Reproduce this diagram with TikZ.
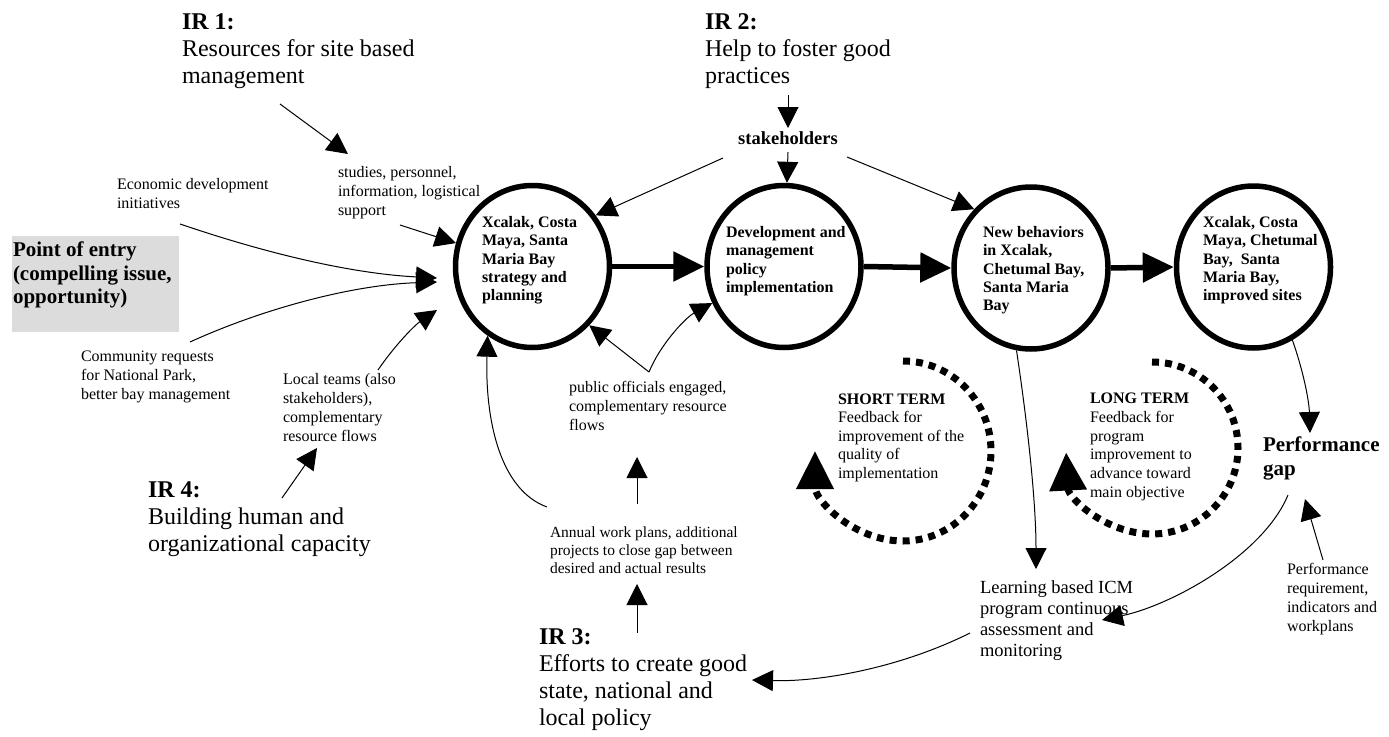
\documentclass[tikz,border=0pt]{standalone}
\usepackage{fontspec}
\setmainfont{Liberation Serif}
\usetikzlibrary{arrows.meta,shapes.geometric}
\definecolor{boxgray}{RGB}{220,220,220}
\begin{document}
\begin{tikzpicture}[x=1pt,y=-1pt,
  every node/.style={inner sep=0pt,outer sep=0pt},
  stage/.style={ellipse,draw,line width=5.5pt,minimum width=154pt,minimum height=162pt,outer sep=2.75pt},
  stagetext/.style={anchor=north west,align=left,font=\bfseries\fontsize{16}{18.3}\selectfont},
  irtext/.style={anchor=north west,align=left,font=\fontsize{24}{27}\selectfont},
  smalltext/.style={anchor=north west,align=left,font=\fontsize{16}{19}\selectfont},
  thinflow/.style={line width=1pt,-{Triangle[length=21pt,width=21pt]}},
  mainflow/.style={line width=5.5pt,-{Triangle[length=31pt,width=29pt]}},
  feedbackloop/.style={line width=7pt,dash pattern=on 7pt off 6pt,-{Triangle[length=38pt,width=36pt]}}
]
\useasboundingbox (0,0) rectangle (1389,736);

% --- headings of the intermediate results
\node[irtext] (ir1) at (182,13.6) {\textbf{IR 1:}\\Resources for site based\\management};
\node[irtext] (ir2) at (705,13.6) {\textbf{IR 2:}\\Help to foster good\\practices};
\node[irtext] (ir3) at (539,628.6) {\textbf{IR 3:}\\Efforts to create good\\state, national and\\local policy};
\node[irtext] (ir4) at (148,481.6) {\textbf{IR 4:}\\Building human and\\organizational capacity};

% --- point of entry
\node[fill=boxgray,anchor=north west,minimum width=167pt,minimum height=96pt] (entrybox) at (12,236) {};
\node[anchor=north west,align=left,font=\bfseries\fontsize{21}{23.5}\selectfont] (entry) at (13,242.2)
  {Point of entry\\(compelling issue,\\opportunity)};

% --- the four stages
\node[stage] (c1) at (532.5,266.5) {};
\node[stage] (c2) at (784,266.5) {};
\node[stage] (c3) at (1031,268) {};
\node[stage] (c4) at (1253.5,267) {};
\node[stagetext] (c1t) at (482,216.3) {Xcalak, Costa\\Maya, Santa\\Maria Bay\\strategy and\\planning};
\node[stagetext] (c2t) at (726,226.3) {Development and\\management\\policy\\implementation};
\node[stagetext] (c3t) at (983,226.3) {New behaviors\\in Xcalak,\\Chetumal Bay,\\Santa Maria\\Bay};
\node[stagetext] (c4t) at (1203,216.3) {Xcalak, Costa\\Maya, Chetumal\\Bay,~ Santa\\Maria Bay,\\improved sites};

% --- labels
\node[font=\bfseries\fontsize{18.5}{20}\selectfont] (stake) at (788,138) {stakeholders};
\node[smalltext] (studies) at (338,166.3) {studies, personnel,\\information, logistical\\support};
\node[smalltext] (econ) at (117,178.3) {Economic development\\initiatives};
\node[smalltext] (comm) at (81,351.3) {Community requests\\for National Park,\\better bay management};
\node[smalltext] (local) at (283,373.3) {Local teams (also\\stakeholders),\\complementary\\resource flows};
\node[smalltext] (pub) at (569,381.3) {public officials engaged,\\complementary resource\\flows};
\node[smalltext,font=\fontsize{15.5}{18}\selectfont] (annual) at (550,526.3)
  {Annual work plans, additional\\projects to close gap between\\desired and actual results};
\node[anchor=north west,align=left,font=\fontsize{18.5}{21}\selectfont] (learn) at (980,580.2)
  {Learning based ICM\\program continuous\\assessment and\\monitoring};
\node[smalltext] (req) at (1287,563.3) {Performance\\requirement,\\indicators and\\workplans};
\node[anchor=north west,align=left,font=\bfseries\fontsize{21}{24}\selectfont] (gap) at (1263,437.2) {Performance\\gap};
\node[smalltext,font=\fontsize{16}{18.6}\selectfont] (short) at (838,393.4)
  {\textbf{SHORT TERM}\\Feedback for\\improvement of the\\quality of\\implementation};
\node[smalltext,font=\fontsize{16}{18.6}\selectfont] (long) at (1090,393.4)
  {\textbf{LONG TERM}\\Feedback for\\program\\improvement to\\advance toward\\main objective};

% --- free ends of the thin connectors
\coordinate (ir1out) at (280,104);
\coordinate (studiesin) at (348,154);
\coordinate (supportout) at (400,225);
\coordinate (econout) at (180,224);
\coordinate (econin) at (437,278);
\coordinate (commout) at (190,342);
\coordinate (commin) at (437,282);
\coordinate (localout) at (378,370);
\coordinate (localin) at (437,310);
\coordinate (ir4out) at (282,498);
\coordinate (ir4in) at (317,448);
\coordinate (ir2out) at (788,95);
\coordinate (stakein) at (788,128);
\coordinate (stakeleft) at (723,158);
\coordinate (stakemid) at (788,152);
\coordinate (stakeright) at (847,157);
\coordinate (annualout) at (547,507);
\coordinate (pubout) at (649,372);
\coordinate (annualup) at (637,504);
\coordinate (pubin) at (637,457);
\coordinate (ir3up) at (637,633);
\coordinate (annualin) at (637,584);
\coordinate (learnin) at (1036,569);
\coordinate (learnout) at (970,633);
\coordinate (ir3in) at (752,680);
\coordinate (gapin) at (1310,433);
\coordinate (gapout) at (1288,495);
\coordinate (learnright) at (1102,620);
\coordinate (reqout) at (1323,560);
\coordinate (reqin) at (1305,499);

% --- main sequence
\draw[mainflow] (c1.east) -- (c2.west);
\draw[mainflow] (c2.east) -- (c3.west);
\draw[mainflow] (c3.east) -- (c4.west);

% --- inputs
\draw[thinflow] (ir1out) -- (studiesin);
\draw[thinflow] (supportout) -- (c1.163);
\draw[thinflow] (econout) .. controls (280,258) and (360,274) .. (econin);
\draw[thinflow] (commout) .. controls (260,310) and (350,285) .. (commin);
\draw[thinflow] (localout) .. controls (395,345) and (415,325) .. (localin);
\draw[thinflow] (ir4out) -- (ir4in);
\draw[thinflow] (ir2out) -- (stakein);
\draw[thinflow] (stakeleft) -- (c1.39);
\draw[thinflow] (stakemid) -- (c2.88);
\draw[thinflow] (stakeright) -- (c3.134);
\draw[thinflow] (annualout) .. controls (500,490) and (485,420) .. (c1.-123);
\draw[thinflow] (pubout) -- (c1.-46);
\draw[thinflow] (pubout) .. controls (660,345) and (685,318) .. (c2.207);
\draw[thinflow] (annualup) -- (pubin);
\draw[thinflow] (ir3up) -- (annualin);

% --- monitoring and performance gap
\draw[thinflow] (c3.-100) .. controls (1027,420) and (1036,500) .. (learnin);
\draw[thinflow] (learnout) .. controls (900,668) and (820,682) .. (ir3in);
\draw[thinflow] (c4.-62) .. controls (1303,370) and (1309,400) .. (gapin);
\draw[thinflow] (gapout) .. controls (1263,555) and (1172,605) .. (learnright);
\draw[thinflow] (reqout) -- (reqin);

% --- feedback loops
\draw[feedbackloop] (903,361) arc[start angle=-90,end angle=180,x radius=88,y radius=90];
\draw[feedbackloop] (1152,362) arc[start angle=-90,end angle=177,x radius=86,y radius=86];
\end{tikzpicture}
\end{document}
